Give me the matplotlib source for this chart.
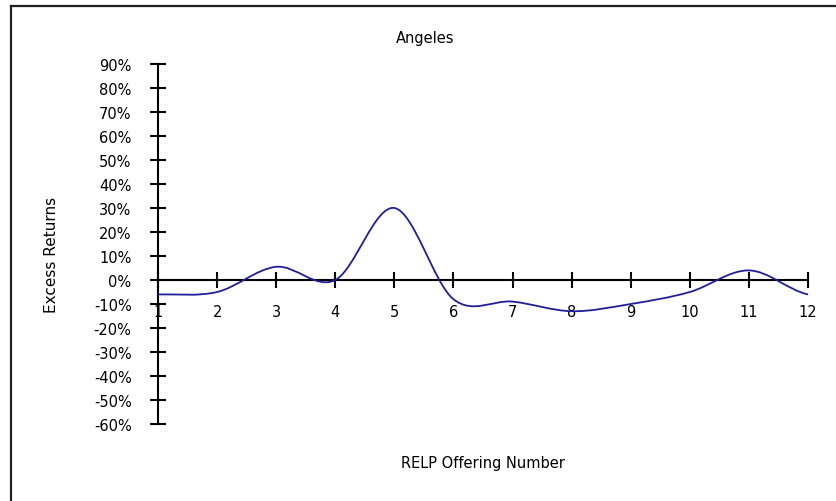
import matplotlib
matplotlib.use("Agg")
import matplotlib.pyplot as plt
import numpy as np
from matplotlib.path import Path
from matplotlib.patches import PathPatch
from matplotlib.lines import Line2D

plt.rcParams['font.family'] = ['DejaVu Sans']
plt.rcParams['axes.unicode_minus'] = False

# data (excess return, %)
offering = [1, 2, 3, 4, 5, 6, 7, 8, 9, 10, 11, 12]
excess = [-6, -5, 5.5, 0, 30, -8, -9, -13, -10, -5, 4, -6]
y_ticks = [90, 80, 70, 60, 50, 40, 30, 20, 10, 0, -10, -20, -30, -40, -50, -60]
y_labels = [f"{v}%" for v in y_ticks]

W, H = 836, 502
fig = plt.figure(figsize=(W / 100, H / 100), dpi=100)
ax = fig.add_axes([158 / W, 1 - 425 / H, (808 - 158) / W, (425 - 65) / H])

# smoothed line like the spreadsheet's (Catmull-Rom as cubic Bezier)
x = np.array(offering, dtype=float)
y = np.array(excess, dtype=float)
m = np.zeros_like(y)
m[1:-1] = (y[2:] - y[:-2]) / 2
m[0] = (y[1] - y[0]) / 2
m[-1] = (y[-1] - y[-2]) / 2
verts = [(x[0], y[0])]
codes = [Path.MOVETO]
for i in range(len(x) - 1):
    verts += [(x[i] + 1 / 3, y[i] + m[i] / 3),
              (x[i + 1] - 1 / 3, y[i + 1] - m[i + 1] / 3),
              (x[i + 1], y[i + 1])]
    codes += [Path.CURVE4] * 3
ax.add_patch(PathPatch(Path(verts, codes), fill=False, edgecolor='#1f1f9a',
                       lw=1.3, zorder=3, clip_on=False))

ax.set_xlim(1, 12)
ax.set_ylim(-60, 90)
ax.spines['top'].set_visible(False)
ax.spines['right'].set_visible(False)
ax.spines['bottom'].set_position(('data', 0))
for s in ('left', 'bottom'):
    ax.spines[s].set_linewidth(1.5)
    ax.spines[s].set_zorder(2)

ax.set_xticks(offering)
ax.set_xticklabels([str(v) for v in offering])
ax.set_yticks(y_ticks)
ax.set_yticklabels(y_labels)
ax.tick_params(axis='both', direction='inout', length=12, width=1.5,
               labelsize=10.5, colors='black')
ax.tick_params(axis='x', pad=11)
ax.tick_params(axis='y', pad=13)

fig.text(425 / W, 1 - 38 / H, "Angeles", ha='center', va='center', fontsize=10.5)
fig.text(483 / W, 1 - 464 / H, "RELP Offering Number", ha='center', va='center',
         fontsize=10.5)
fig.text(52 / W, 1 - 255 / H, "Excess Returns", ha='center', va='center',
         rotation=90, fontsize=11)

# outer frame (top and left edges)
fig.add_artist(Line2D([11 / W, 1], [1 - 7 / H, 1 - 7 / H], color='#222222', lw=1.6))
fig.add_artist(Line2D([11 / W, 11 / W], [0, 1 - 7 / H], color='#222222', lw=1.6))

fig.savefig("out.png", dpi=100)
